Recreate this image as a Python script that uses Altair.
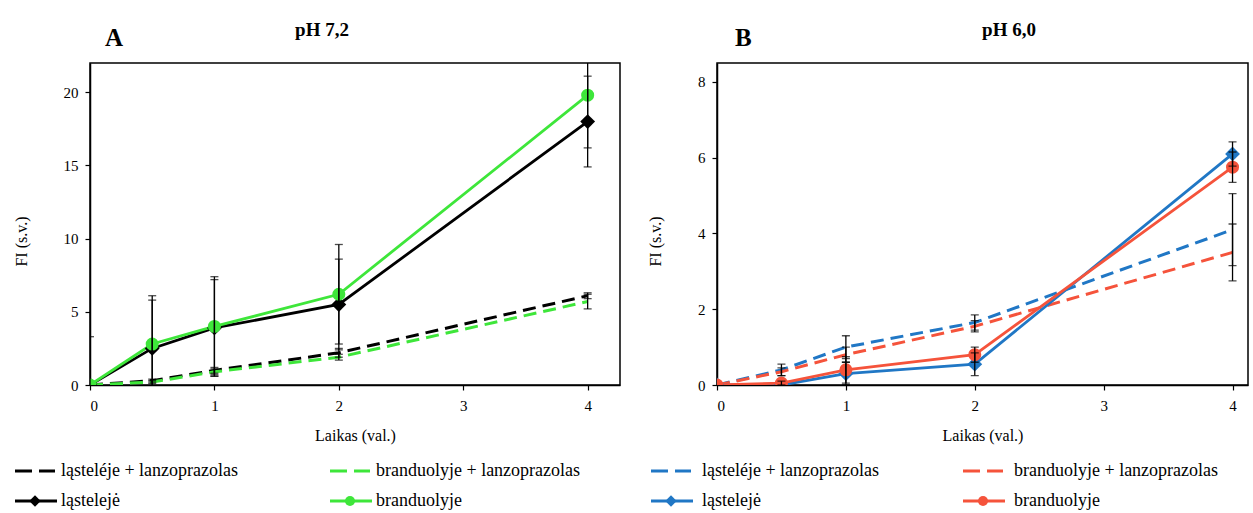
import altair as alt
import pandas as pd

FONT = "Liberation Serif"

hours = [0, 0.5, 1, 2, 4]
series_names = ["ląsteléje + lanzoprazolas", "branduolyje + lanzoprazolas", "ląstelejė", "branduolyje"]
legend_cols = [0, 1, 0, 1]
legend_rows = [0, 0, 1, 1]

# Panel A (pH 7,2)
a_cell_lanz = [0, 0.3, 1.0, 2.2, 6.1]
a_nuc_lanz = [0, 0.2, 0.9, 1.9, 5.7]
a_cell = [0, 2.5, 3.9, 5.5, 18.0]
a_nuc = [0, 2.8, 4.0, 6.2, 19.8]
a_cell_lanz_err = [0, 0.1, 0.2, 0.3, 0.2]
a_nuc_lanz_err = [0, 0.1, 0.2, 0.2, 0.5]
a_cell_err = [3.3, 3.3, 3.3, 3.1, 3.1]
a_nuc_err = [0, 3.3, 3.4, 3.4, 3.6]

# Panel B (pH 6,0)
b_cell_lanz = [0, 0.4, 1.0, 1.65, 4.1]
b_nuc_lanz = [0, 0.35, 0.8, 1.55, 3.5]
b_cell = [0, 0.0, 0.3, 0.55, 6.1]
b_nuc = [0, 0.05, 0.4, 0.8, 5.75]
b_cell_lanz_err = [0, 0.15, 0.3, 0.2, 0.95]
b_nuc_lanz_err = [0, 0.1, 0.2, 0.15, 0.75]
b_cell_err = [0, 0, 0.3, 0.3, 0.32]
b_nuc_err = [0, 0.05, 0.35, 0.2, 0.4]

colors_a = ["#000000", "#3ee63a", "#000000", "#3ee63a"]
colors_b = ["#2077c5", "#f5533b", "#2077c5", "#f5533b"]


def long_df(vals, errs):
    rows = []
    for name, v, e in zip(series_names, vals, errs):
        for t, y, s in zip(hours, v, e):
            rows.append({"t": t, "y": y, "lo": y - s, "hi": y + s, "err": s,
                         "series": name, "dashed": "lanzoprazolas" in name})
    return pd.DataFrame(rows)


legend_df = pd.DataFrame({
    "series": series_names, "col": legend_cols, "row": legend_rows,
    "dashed": ["lanzoprazolas" in s for s in series_names],
})


def panel(df, colors, ymax, yticks, xmax, width, label, label_x, title, title_x,
          legend_xr, label_dx):
    base = alt.Chart(df)
    xscale = alt.Scale(domain=[0, xmax], nice=False, zero=False)
    yscale = alt.Scale(domain=[0, ymax], nice=False, zero=False)
    xaxis = alt.Axis(values=[0, 1, 2, 3, 4], title="Laikas (val.)", labelPadding=8, titlePadding=14)
    yaxis = alt.Axis(values=yticks, title="FI (s.v.)", labelPadding=7, titlePadding=34, titleY=178)
    X = lambda f: alt.X(f, scale=xscale, axis=xaxis, title="Laikas (val.)")
    Y = lambda f: alt.Y(f, scale=yscale, axis=yaxis, title="FI (s.v.)")
    color = alt.Color("series:N", scale=alt.Scale(domain=series_names, range=colors), legend=None)

    dashed = base.transform_filter(alt.datum.dashed).mark_line(
        strokeWidth=3, strokeDash=[13, 7], clip=True
    ).encode(x=X("t:Q"), y=Y("y:Q"), color=color, detail="series:N")
    solid = base.transform_filter(~alt.datum.dashed).mark_line(
        strokeWidth=2.8, clip=True
    ).encode(x=X("t:Q"), y=Y("y:Q"), color=color, detail="series:N")
    diamonds = base.transform_filter(alt.datum.series == "ląstelejė").mark_point(
        shape="diamond", filled=True, size=220, opacity=1, clip=True
    ).encode(x=X("t:Q"), y=Y("y:Q"), color=color)
    circles = base.transform_filter(alt.datum.series == "branduolyje").mark_point(
        shape="circle", filled=True, size=170, opacity=1, clip=True
    ).encode(x=X("t:Q"), y=Y("y:Q"), color=color)

    eb = base.transform_filter(alt.datum.err > 0)
    rules = eb.mark_rule(color="black", strokeWidth=1.3, clip=True).encode(
        x=X("t:Q"), y=Y("lo:Q"), y2="hi:Q")
    caps_lo = eb.mark_tick(orient="horizontal", color="black", size=8, thickness=1.3, clip=True).encode(
        x=X("t:Q"), y=Y("lo:Q"))
    caps_hi = eb.mark_tick(orient="horizontal", color="black", size=8, thickness=1.3, clip=True).encode(
        x=X("t:Q"), y=Y("hi:Q"))

    texts = alt.Chart(pd.DataFrame({"label": [label], "title": [title]}))
    letter = texts.mark_text(
        font=FONT, fontSize=25, fontWeight="bold", align="left", baseline="middle", color="black"
    ).encode(text="label:N", x=alt.value(label_x), y=alt.value(-25))
    heading = texts.mark_text(
        font=FONT, fontSize=19, fontWeight="bold", align="center", baseline="middle", color="black"
    ).encode(text="title:N", x=alt.value(title_x), y=alt.value(-33))

    plot = alt.layer(dashed, solid, diamonds, circles, rules, caps_lo, caps_hi, letter, heading)

    # legend drawn with marks below the plot
    lg = alt.Chart(legend_df)
    LX = alt.X("col:Q", scale=alt.Scale(domain=[0, 1], range=legend_xr), axis=None)
    LY = alt.Y("row:Q", scale=alt.Scale(domain=[0, 1], range=[408, 438]), axis=None)
    lcolor = alt.Color("series:N", scale=alt.Scale(domain=series_names, range=colors), legend=None)
    l_dash = lg.transform_filter(alt.datum.dashed).mark_rule(
        strokeWidth=3, strokeDash=[17, 7], xOffset=-20, x2Offset=20
    ).encode(x=LX, x2="col:Q", y=LY, color=lcolor)
    l_solid = lg.transform_filter(~alt.datum.dashed).mark_rule(
        strokeWidth=2.8, xOffset=-20, x2Offset=22
    ).encode(x=LX, x2="col:Q", y=LY, color=lcolor)
    l_diam = lg.transform_filter(alt.datum.series == "ląstelejė").mark_point(
        shape="diamond", filled=True, size=130, opacity=1
    ).encode(x=LX, y=LY, color=lcolor)
    l_circ = lg.transform_filter(alt.datum.series == "branduolyje").mark_point(
        shape="circle", filled=True, size=100, opacity=1
    ).encode(x=LX, y=LY, color=lcolor)
    l_text = lg.mark_text(
        font=FONT, fontSize=18, align="left", baseline="middle", dx=label_dx, color="black"
    ).encode(x=LX, y=LY, text="series:N")
    legend = alt.layer(l_dash, l_solid, l_diam, l_circ, l_text)

    return alt.layer(plot, legend).resolve_scale(x="independent", y="independent").properties(
        width=width, height=322)


df_a = long_df([a_cell_lanz, a_nuc_lanz, a_cell, a_nuc],
               [a_cell_lanz_err, a_nuc_lanz_err, a_cell_err, a_nuc_err])
df_b = long_df([b_cell_lanz, b_nuc_lanz, b_cell, b_nuc],
               [b_cell_lanz_err, b_nuc_lanz_err, b_cell_err, b_nuc_err])

chart_a = panel(df_a, colors_a, 22, [0, 5, 10, 15, 20], 4.26, 530, "A", 15, "pH 7,2", 232, [-55, 260], 26)
chart_b = panel(df_b, colors_b, 8.5, [0, 2, 4, 6, 8], 4.12, 531, "B", 18, "pH 6,0", 292, [-46, 266], 31)

chart = alt.hconcat(chart_a, chart_b, spacing=25).resolve_scale(
    color="independent", x="independent", y="independent"
).properties(
    padding={"left": 12, "top": 20, "right": 0, "bottom": 0},
    background="white",
).configure_view(
    stroke="black", strokeWidth=1.5
).configure_axis(
    labelFont=FONT, labelFontSize=15, labelColor="black",
    titleFont=FONT, titleFontSize=16, titleFontWeight="normal", titleColor="black",
    tickColor="black", domainColor="black", domainWidth=1.5, tickWidth=1.2, tickSize=5, grid=False,
)

chart.save("out.html", embed_options={"renderer": "svg", "actions": False})
